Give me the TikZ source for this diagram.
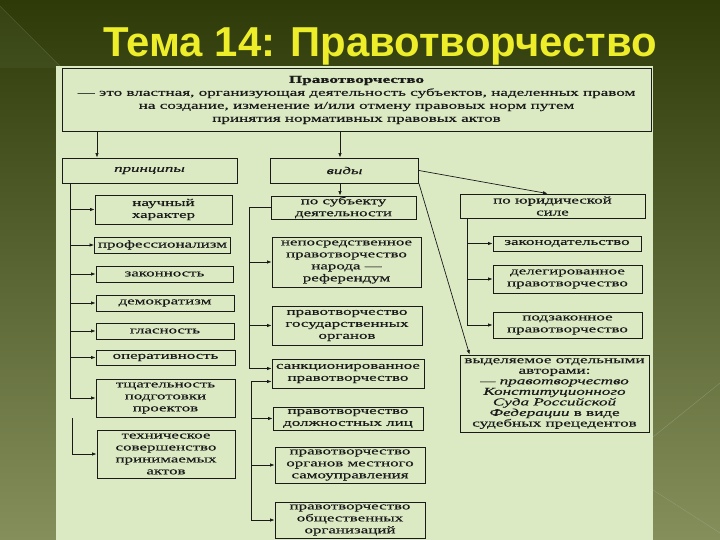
\documentclass[tikz,border=0pt]{standalone}
\usepackage{fontspec}
\newfontfamily\scanfont[FakeStretch=1.62, FakeBold=0.4]{Liberation Serif}
\newfontfamily\titlefont{Liberation Sans}
\usetikzlibrary{arrows.meta}
\definecolor{ink}{HTML}{1A1A1A}
\definecolor{paper}{HTML}{DCEAC4}
\definecolor{bgtop}{HTML}{2E3B08}
\definecolor{bgmid}{HTML}{55691B}
\definecolor{bgbot}{HTML}{848F5C}
\definecolor{titleyellow}{HTML}{EDED2A}

\begin{document}
\begin{tikzpicture}[x=1bp, y=-1bp,
        box/.style={draw=ink, line width=0.9bp, fill=paper, text=ink, align=center, inner sep=0pt,
            font=\scanfont\fontsize{10.5}{12}\selectfont},
        head/.style={box, font=\scanfont\itshape\fontsize{10.5}{12}\selectfont},
        wh/.style 2 args={minimum width=#1bp, minimum height=#2bp},
        link/.style={draw=ink, line width=0.7bp, -{Latex[length=4.5bp,width=3.5bp]}},
        trunk/.style={draw=ink, line width=0.7bp}]

        % Slide: background, title, scanned sheet
        \useasboundingbox (0,0) rectangle (720,540);
        \shade[top color=bgtop, middle color=bgmid, bottom color=bgbot] (0,0) rectangle (720,540);
        \fill[white, opacity=0.04] (0,6) -- (62,68) -- (0,68) -- cycle;
        \draw[white, opacity=0.12] (0,6) -- (62,68);
        \draw[white, opacity=0.2] (653,437) -- (720,383);
        \draw[white, opacity=0.15] (653,490) -- (720,533);
        \node[font=\titlefont\bfseries\fontsize{42}{48}\selectfont, text=titleyellow, anchor=base] (title) at (380,57) {Тема 14: Правотворчество};
        \fill[paper] (56,66) rectangle (653,540);

        % Definition and the two headings
        \node[box, wh={589}{63}, font=\scanfont\fontsize{10.6}{13}\selectfont] (defn) at (356.5,100)
            {\textbf{Правотворчество}\\— это властная, организующая деятельность субъектов, наделенных правом\\на создание, изменение и/или отмену правовых норм путем\\принятия нормативных правовых актов};
        \node[head, wh={175}{25}] (princ) at (149.5,170.5) {принципы};
        \node[head, wh={148}{25}] (vidy) at (344.5,170.5) {виды};
        \coordinate (cL) at (97,0);
        \coordinate (cM) at (340,0);
        \draw[link] (defn.south -| cL) -- (princ.north -| cL);
        \draw[link] (defn.south -| cM) -- (vidy.north -| cM);

        % Principles
        \node[box, wh={137}{29}] (nauch) at (163.5,209.5) {научный\\характер};
        \node[box, wh={136}{16}] (prof) at (162.5,245) {профессионализм};
        \node[box, wh={137}{16}] (zakon) at (164.5,274) {законность};
        \node[box, wh={138}{16}] (demo) at (165,303) {демократизм};
        \node[box, wh={138}{16}] (glas) at (165,331) {гласность};
        \node[box, wh={139}{15}] (oper) at (165.5,357.5) {оперативность};
        \node[box, wh={139}{38}] (tshch) at (165.5,398) {тщательность\\подготовки\\проектов};
        \node[box, wh={138}{48}] (tekh) at (166,454) {техническое\\совершенство\\принимаемых\\актов};
        \coordinate (tL) at (70,0);
        \coordinate (tL2) at (72,418);
        \draw[trunk] (princ.south -| tL) -- (tshch.west -| tL);
        \foreach \b in {nauch,prof,zakon,demo,glas,oper,tshch}
            \draw[link] (\b.west -| tL) -- (\b.west);
        \draw[link] (tL2) |- (tekh.west);

        % Kinds by subject
        \node[box, wh={145}{23}] (subj) at (343.5,207.5) {по субъекту\\деятельности};
        \node[box, wh={149}{50}] (nepos) at (346.5,262) {непосредственное\\правотворчество\\народа —\\референдум};
        \node[box, wh={150}{39}] (gos) at (347,325.5) {правотворчество\\государственных\\органов};
        \node[box, wh={152}{29}] (sankc) at (348,373.5) {санкционированное\\правотворчество};
        \node[box, wh={150}{23}] (dolzh) at (348,418.5) {правотворчество\\должностных лиц};
        \node[box, wh={150}{36}] (mest) at (350,465) {правотворчество\\органов местного\\самоуправления};
        \node[box, wh={150}{36}] (obshch) at (350,520) {правотворчество\\общественных\\организаций};
        \draw[link] (vidy.south -| cM) -- (subj.north -| cM);
        \coordinate (tM) at (249,0);
        \coordinate (tM2) at (251,0);
        \coordinate (s1) at ([yshift=5bp]sankc.west);
        \coordinate (s2) at ([yshift=-8bp]sankc.west);
        \draw[link] (subj.west) -| (tM |- s1) -- (s1);
        \foreach \b in {nepos,gos}
            \draw[link] (\b.west -| tM) -- (\b.west);
        \draw[link] (tM2 |- s2) -- (s2);
        \draw[trunk] (tM2 |- s2) -- (tM2 |- obshch.west);
        \foreach \b in {dolzh,mest,obshch}
            \draw[link] (\b.west -| tM2) -- (\b.west);

        % Kinds by legal force
        \node[box, wh={185}{24}] (yur) at (552.5,206) {по юридической\\силе};
        \node[box, wh={148}{15}] (zakdat) at (567,243.5) {законодательство};
        \node[box, wh={149}{28}] (deleg) at (567.5,279) {делегированное\\правотворчество};
        \node[box, wh={149}{26}] (podz) at (567.5,325) {подзаконное\\правотворчество};
        \node[box, wh={189}{77}, font=\scanfont\fontsize{10.6}{10.6}\selectfont] (vydel) at (554.5,393.5)
            {выделяемое отдельными\\авторами:\\\textit{— правотворчество}\\\textit{Конституционного}\\\textit{Суда Российской}\\\textit{Федерации} в виде\\судебных прецедентов};
        \coordinate (tR) at (467,0);
        \draw[trunk] (yur.south -| tR) -- (podz.west -| tR);
        \foreach \b in {zakdat,deleg,podz}
            \draw[link] (\b.west -| tR) -- (\b.west);
        \draw[link] (vidy.east) -- ([xshift=-5bp]yur.north);
        \draw[link] (vidy.south east) -- ([xshift=10bp]vydel.north west);
    \end{tikzpicture}
\end{document}
